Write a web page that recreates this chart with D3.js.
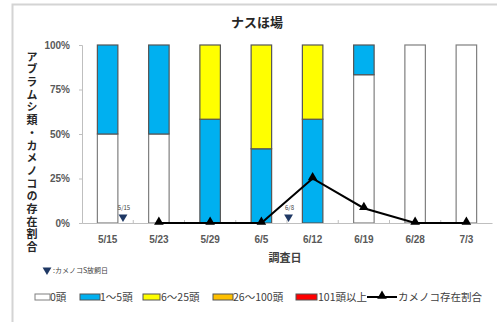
<!DOCTYPE html>
<html><head><meta charset="utf-8">
<script src="https://cdn.jsdelivr.net/npm/d3@7"></script>
<style>
html,body{margin:0;padding:0;background:#fff;}
svg{display:block;font-family:"Noto Sans CJK JP","Noto Sans",sans-serif;}
</style></head>
<body><svg id="c" width="497" height="322"></svg>
<script>
const dates = ["5/15","5/23","5/29","6/5","6/12","6/19","6/28","7/3"];
const seriesNames = ["0頭","1〜5頭","6〜25頭","26〜100頭","101頭以上"];
const s0 = [50, 50, 0, 0, 0, 83.3, 100, 100];
const s1 = [50, 50, 58.3, 41.7, 58.3, 16.7, 0, 0];
const s2 = [0, 0, 41.7, 58.3, 41.7, 0, 0, 0];
const s3 = [0, 0, 0, 0, 0, 0, 0, 0];
const s4 = [0, 0, 0, 0, 0, 0, 0, 0];
const presence = [null, 0, 0, 0, 25, 8.3, 0, 0];
const releaseLabels = ["5/15","6/8"];
const releaseIndex = [0.3, 3.53];
const yTicks = [0, 25, 50, 75, 100];
const colors = ["#ffffff","#00b0f0","#ffff00","#ffc000","#ff0000"];
const lineName = "カメノコ存在割合";

const svg = d3.select("#c");
// outer frame
svg.append("rect").attr("x",12.5).attr("y",4.5).attr("width",500).attr("height",330)
  .attr("fill","none").attr("stroke","#d4d4d4").attr("stroke-width",2);

const x = d3.scaleBand().domain(dates).range([82,492]).paddingInner(0.6).paddingOuter(0.3);
const y = d3.scaleLinear().domain([0,100]).range([223,45]);
const xi = d3.scaleLinear().domain([0,1]).range([x(dates[0])+x.bandwidth()/2, x(dates[1])+x.bandwidth()/2]);

const series = [s0,s1,s2,s3,s4];
const table = dates.map((d,i)=>{const o={date:d}; seriesNames.forEach((n,k)=>o[n]=series[k][i]); return o;});
const stacked = d3.stack().keys(seriesNames)(table);

// bars
stacked.forEach((layer,k)=>{
  svg.append("g").selectAll("rect").data(layer.filter(d=>d[1]-d[0]>0)).join("rect")
    .attr("x",d=>x(d.data.date)).attr("width",x.bandwidth())
    .attr("y",d=>y(d[1])).attr("height",d=>y(d[0])-y(d[1]))
    .attr("fill",colors[k]).attr("stroke", k===0?"#7f7f7f":"#555").attr("stroke-width",1.2);
});

// y axis
const yAxis = svg.append("g").attr("transform","translate(82,0)")
  .call(d3.axisLeft(y).tickValues(yTicks).tickFormat(d=>d+"%").tickSize(3).tickPadding(9));
yAxis.select(".domain").attr("stroke","#bfbfbf");
yAxis.selectAll(".tick line").attr("stroke","#bfbfbf");
yAxis.selectAll("text").attr("fill","#595959").attr("font-size",10).attr("font-weight","bold");

// x axis
const xAxis = svg.append("g").attr("transform","translate(0,223)")
  .call(d3.axisBottom(x).tickSize(0).tickPadding(13));
xAxis.select(".domain").attr("stroke","#bfbfbf");
xAxis.selectAll("text").attr("fill","#595959").attr("font-size",10).attr("font-weight","bold");
// boundary ticks pointing up
svg.append("g").selectAll("line").data(d3.range(1,dates.length)).join("line")
  .attr("x1",i=>x(dates[i])-x.step()*x.paddingInner()/2).attr("x2",i=>x(dates[i])-x.step()*x.paddingInner()/2)
  .attr("y1",223).attr("y2",220).attr("stroke","#bfbfbf");

// presence line
const pts = dates.map((d,i)=>({date:d,v:presence[i]})).filter(p=>p.v!==null);
const cx = d=>x(d)+x.bandwidth()/2;
svg.append("path").datum(pts)
  .attr("d",d3.line().x(p=>cx(p.date)).y(p=>y(p.v)))
  .attr("fill","none").attr("stroke","#000").attr("stroke-width",2);
const tri = d3.symbol().type(d3.symbolTriangle).size(40);
svg.append("g").selectAll("path").data(pts).join("path")
  .attr("d",tri).attr("transform",p=>`translate(${cx(p.date)},${y(p.v)-1})`).attr("fill","#000");

// release markers
const invTri = d3.symbol().type(d3.symbolTriangle).size(34);
releaseIndex.forEach((ri,i)=>{
  const px = xi(ri);
  svg.append("path").attr("d",invTri).attr("transform",`translate(${px},217) rotate(180)`).attr("fill","#1f3864");
  svg.append("text").attr("x",px+1).attr("y",210).attr("text-anchor","middle")
    .attr("font-size",6).attr("fill","#404040").text(releaseLabels[i]);
});

// title
svg.append("text").attr("x",257).attr("y",27).attr("text-anchor","middle")
  .attr("font-size",13).attr("font-weight","bold").attr("fill","#262626").text("ナスほ場");
// x title
svg.append("text").attr("x",285).attr("y",262).attr("text-anchor","middle")
  .attr("font-size",11).attr("font-weight","bold").attr("fill","#404040").text("調査日");
// y title vertical
svg.append("text").attr("x",32).attr("y",51)
  .style("writing-mode","vertical-rl").style("text-orientation","upright")
  .style("letter-spacing","1.7px")
  .attr("font-size",11).attr("font-weight","bold").attr("fill","#262626")
  .text("アブラムシ類・カメノコの存在割合");

// small legend for release
svg.append("path").attr("d",invTri).attr("transform","translate(47,270) rotate(180)").attr("fill","#1f3864");
svg.append("text").attr("x",53).attr("y",273).attr("font-size",7).attr("fill","#404040").text(":カメノコS放飼日");

// bottom legend
const legY = 297;
const legItems = [
  {sx:35, w:15, tx:50},
  {sx:80, w:20, tx:100},
  {sx:143, w:17, tx:161},
  {sx:213, w:20, tx:233},
  {sx:296, w:21, tx:318}
];
legItems.forEach((it,k)=>{
  svg.append("rect").attr("x",it.sx).attr("y",legY-3).attr("width",it.w).attr("height",6)
    .attr("fill",colors[k]).attr("stroke",k===0?"#7f7f7f":"#555").attr("stroke-width",1);
  svg.append("text").attr("x",it.tx).attr("y",legY+4).attr("font-size",10.5).attr("fill","#404040").text(seriesNames[k]);
});
svg.append("line").attr("x1",367).attr("x2",397).attr("y1",legY).attr("y2",legY).attr("stroke","#000").attr("stroke-width",2);
svg.append("path").attr("d",tri).attr("transform",`translate(382,${legY-1})`).attr("fill","#000");
svg.append("text").attr("x",398).attr("y",legY+4).attr("font-size",10.5).attr("fill","#404040").text(lineName);
</script></body></html>
